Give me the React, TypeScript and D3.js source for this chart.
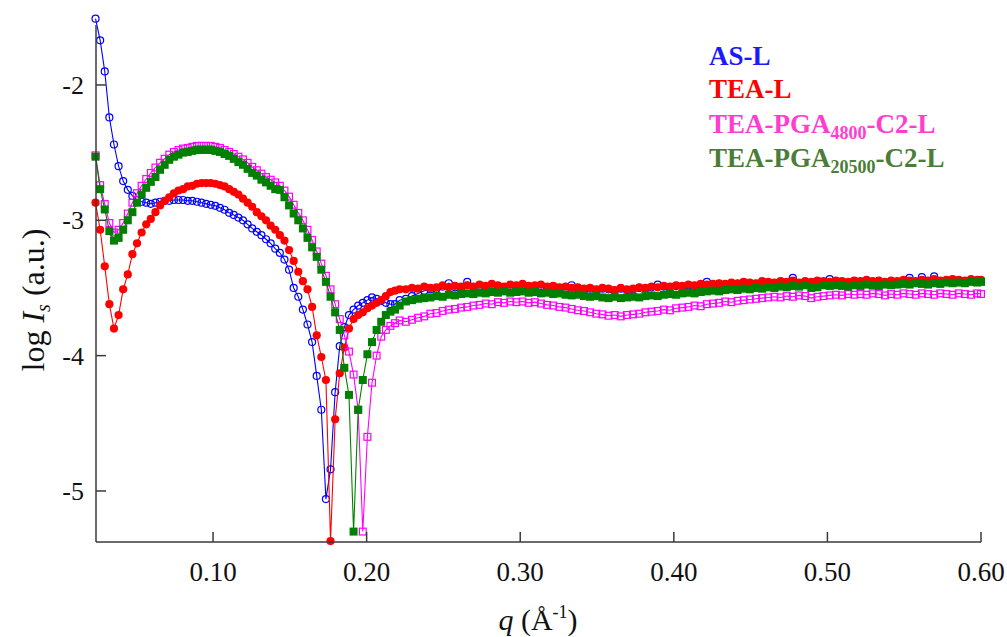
import React from "react";
import * as d3 from "d3";

// shared q grid (Å^-1)
const qGrid: number[] = [
  0.0235, 0.0265, 0.0295, 0.0325, 0.0355, 0.0385, 0.0415, 0.0445, 0.0475, 0.0505,
  0.0535, 0.0565, 0.0595, 0.0625, 0.0655, 0.0685, 0.0715, 0.0745, 0.0775, 0.0805,
  0.0835, 0.0865, 0.0895, 0.0925, 0.0955, 0.0985, 0.1015, 0.1045, 0.1075, 0.1105,
  0.1135, 0.1165, 0.1195, 0.1225, 0.1255, 0.1285, 0.1315, 0.1345, 0.1375, 0.1405,
  0.1435, 0.1465, 0.1495, 0.1525, 0.1555, 0.1585, 0.1615, 0.1645, 0.1675, 0.1705,
  0.1735, 0.1765, 0.1795, 0.1825, 0.1855, 0.1885, 0.1915, 0.1945, 0.1975, 0.2005,
  0.2035, 0.2065, 0.2095, 0.2125, 0.2155, 0.2185, 0.2215,
  0.2255, 0.2295, 0.2335, 0.2375, 0.2415, 0.2455, 0.2495, 0.2535, 0.2575, 0.2615,
  0.2655, 0.2695, 0.2735, 0.2775, 0.2815, 0.2855, 0.2895, 0.2935, 0.2975, 0.3015,
  0.3055, 0.3095, 0.3135, 0.3175, 0.3215, 0.3255, 0.3295, 0.3335, 0.3375, 0.3415,
  0.3455, 0.3495, 0.3535, 0.3575, 0.3615, 0.3655, 0.3695, 0.3735, 0.3775, 0.3815,
  0.3855, 0.3895, 0.3935, 0.3975, 0.4015, 0.4055, 0.4095, 0.4135, 0.4175, 0.4215,
  0.4255, 0.4295, 0.4335, 0.4375, 0.4415, 0.4455, 0.4495, 0.4535, 0.4575, 0.4615,
  0.4655, 0.4695, 0.4735, 0.4775, 0.4815, 0.4855, 0.4895, 0.4935, 0.4975, 0.5015,
  0.5055, 0.5095, 0.5135, 0.5175, 0.5215, 0.5255, 0.5295, 0.5335, 0.5375, 0.5415,
  0.5455, 0.5495, 0.5535, 0.5575, 0.5615, 0.5655, 0.5695, 0.5735, 0.5775, 0.5815,
  0.5855, 0.5895, 0.5935, 0.5975, 0.6,
];

// log Is, AS-L
const asL: number[] = [
  -1.51, -1.67, -1.90, -2.24, -2.44, -2.60, -2.71, -2.775, -2.82, -2.85,
  -2.863, -2.87, -2.878, -2.87, -2.863, -2.856, -2.856, -2.85, -2.85, -2.85,
  -2.856, -2.856, -2.863, -2.87, -2.878, -2.886, -2.893, -2.908, -2.922, -2.945,
  -2.96, -2.98, -3.00, -3.03, -3.06, -3.085, -3.11, -3.14, -3.17, -3.21,
  -3.24, -3.29, -3.365, -3.50, -3.565, -3.66, -3.77, -3.90, -4.15, -4.40,
  -5.06, -4.84, -4.27, -3.93, -3.79, -3.70, -3.66, -3.63, -3.61, -3.59,
  -3.57, -3.58, -3.595, -3.61, -3.62, -3.62, -3.59,
  -3.58, -3.56, -3.54, -3.52, -3.51, -3.505, -3.49, -3.465, -3.495, -3.50,
  -3.455, -3.495, -3.485, -3.49, -3.48, -3.49, -3.495, -3.485, -3.49, -3.48,
  -3.49, -3.49, -3.485, -3.495, -3.49, -3.50, -3.50, -3.48, -3.50, -3.51,
  -3.505, -3.515, -3.505, -3.51, -3.52, -3.505, -3.515, -3.51, -3.50, -3.505,
  -3.495, -3.475, -3.49, -3.495, -3.485, -3.49, -3.48, -3.485, -3.475, -3.455,
  -3.475, -3.47, -3.475, -3.465, -3.47, -3.46, -3.465, -3.47, -3.455, -3.46,
  -3.465, -3.455, -3.46, -3.425, -3.465, -3.455, -3.46, -3.45, -3.455, -3.435,
  -3.45, -3.455, -3.46, -3.45, -3.455, -3.445, -3.455, -3.45, -3.46, -3.45,
  -3.455, -3.445, -3.425, -3.455, -3.42, -3.45, -3.415, -3.45, -3.445, -3.44,
  -3.445, -3.45, -3.44, -3.445, -3.445,
];

// log Is, TEA-L
const teaL: number[] = [
  -2.87, -3.07, -3.34, -3.62, -3.80, -3.70, -3.51, -3.40, -3.25, -3.17,
  -3.09, -3.03, -2.99, -2.94, -2.89, -2.856, -2.83, -2.80, -2.78, -2.77,
  -2.75, -2.745, -2.73, -2.725, -2.725, -2.725, -2.73, -2.74, -2.75, -2.77,
  -2.79, -2.81, -2.84, -2.87, -2.90, -2.94, -2.97, -3.00, -3.04, -3.07,
  -3.11, -3.15, -3.22, -3.30, -3.38, -3.45, -3.51, -3.64, -3.85, -4.01,
  -4.18, -5.37, -4.47, -4.13, -3.94, -3.80, -3.73, -3.70, -3.68, -3.65,
  -3.63, -3.61, -3.59, -3.56, -3.53, -3.52, -3.51,
  -3.51, -3.50, -3.505, -3.49, -3.50, -3.495, -3.48, -3.495, -3.485, -3.49,
  -3.48, -3.49, -3.475, -3.485, -3.47, -3.48, -3.49, -3.475, -3.48, -3.47,
  -3.485, -3.48, -3.475, -3.49, -3.485, -3.495, -3.49, -3.50, -3.495, -3.505,
  -3.50, -3.51, -3.50, -3.505, -3.515, -3.50, -3.51, -3.505, -3.495, -3.50,
  -3.49, -3.495, -3.485, -3.49, -3.48, -3.485, -3.475, -3.48, -3.47, -3.475,
  -3.47, -3.465, -3.47, -3.46, -3.465, -3.455, -3.46, -3.465, -3.45, -3.455,
  -3.46, -3.45, -3.455, -3.445, -3.46, -3.45, -3.455, -3.445, -3.45, -3.455,
  -3.445, -3.45, -3.455, -3.445, -3.45, -3.44, -3.45, -3.445, -3.455, -3.445,
  -3.45, -3.44, -3.445, -3.45, -3.44, -3.445, -3.435, -3.445, -3.44, -3.435,
  -3.44, -3.445, -3.435, -3.44, -3.44,
];

// log Is, TEA-PGA4800-C2-L
const pga4800: number[] = [
  -2.52, -2.74, -2.88, -3.02, -3.09, -3.07, -3.02, -2.95, -2.87, -2.80,
  -2.745, -2.695, -2.65, -2.61, -2.575, -2.545, -2.515, -2.495, -2.48, -2.47,
  -2.465, -2.457, -2.45, -2.45, -2.45, -2.45, -2.457, -2.465, -2.48, -2.495,
  -2.51, -2.53, -2.55, -2.575, -2.605, -2.63, -2.655, -2.68, -2.70, -2.72,
  -2.745, -2.78, -2.825, -2.885, -2.945, -3.00, -3.07, -3.145, -3.23, -3.32,
  -3.41, -3.51, -3.62, -3.73, -3.85, -3.97, -4.14, -4.40, -5.30, -4.60,
  -4.20, -4.00, -3.86, -3.81, -3.78, -3.76, -3.74,
  -3.75, -3.735, -3.72, -3.71, -3.69, -3.685, -3.67, -3.66, -3.655, -3.645,
  -3.64, -3.63, -3.625, -3.615, -3.62, -3.605, -3.61, -3.60, -3.605, -3.60,
  -3.61, -3.605, -3.615, -3.625, -3.63, -3.64, -3.645, -3.655, -3.665, -3.67,
  -3.68, -3.69, -3.695, -3.705, -3.70, -3.71, -3.70, -3.695, -3.69, -3.68,
  -3.675, -3.67, -3.66, -3.665, -3.65, -3.645, -3.64, -3.63, -3.635, -3.62,
  -3.615, -3.61, -3.60, -3.605, -3.595, -3.59, -3.585, -3.58, -3.575, -3.57,
  -3.565, -3.57, -3.56, -3.565, -3.555, -3.56, -3.575, -3.565, -3.56, -3.555,
  -3.55, -3.555, -3.545, -3.55, -3.545, -3.55, -3.54, -3.545, -3.555, -3.545,
  -3.55, -3.54, -3.545, -3.55, -3.54, -3.545, -3.55, -3.54, -3.545, -3.55,
  -3.54, -3.545, -3.55, -3.54, -3.545,
];

// log Is, TEA-PGA20500-C2-L
const pga20500: number[] = [
  -2.53, -2.77, -2.92, -3.08, -3.15, -3.13, -3.07, -3.00, -2.94, -2.87,
  -2.81, -2.76, -2.716, -2.68, -2.627, -2.59, -2.553, -2.53, -2.515, -2.50,
  -2.495, -2.487, -2.48, -2.48, -2.48, -2.48, -2.487, -2.495, -2.51, -2.524,
  -2.546, -2.57, -2.59, -2.62, -2.65, -2.67, -2.70, -2.72, -2.745, -2.77,
  -2.775, -2.83, -2.89, -2.95, -3.00, -3.06, -3.13, -3.20, -3.27, -3.365,
  -3.455, -3.565, -3.68, -3.81, -4.09, -4.29, -5.30, -4.40, -4.18, -3.99,
  -3.90, -3.81, -3.75, -3.70, -3.675, -3.66, -3.63,
  -3.60, -3.59, -3.58, -3.575, -3.57, -3.56, -3.565, -3.55, -3.555, -3.545,
  -3.54, -3.545, -3.535, -3.54, -3.53, -3.535, -3.525, -3.535, -3.53, -3.525,
  -3.535, -3.53, -3.54, -3.535, -3.545, -3.54, -3.55, -3.555, -3.55, -3.56,
  -3.565, -3.56, -3.57, -3.575, -3.565, -3.575, -3.57, -3.565, -3.57, -3.56,
  -3.555, -3.56, -3.55, -3.545, -3.55, -3.54, -3.535, -3.54, -3.53, -3.525,
  -3.52, -3.525, -3.515, -3.51, -3.515, -3.505, -3.51, -3.50, -3.505, -3.495,
  -3.50, -3.49, -3.495, -3.485, -3.49, -3.48, -3.50, -3.495, -3.48, -3.485,
  -3.48, -3.485, -3.49, -3.48, -3.485, -3.475, -3.48, -3.485, -3.475, -3.48,
  -3.475, -3.47, -3.475, -3.465, -3.47, -3.475, -3.465, -3.47, -3.46, -3.465,
  -3.46, -3.465, -3.455, -3.46, -3.455,
];

const xTicks: number[] = [0.1, 0.2, 0.3, 0.4, 0.5, 0.6];
const xTickLabels: string[] = ["0.10", "0.20", "0.30", "0.40", "0.50", "0.60"];
const yTicks: number[] = [-2, -3, -4, -5];

const FONT = "'Liberation Serif', 'Times New Roman', serif";

export default function App() {
  const x = d3.scaleLinear().domain([0.0238, 0.6]).range([96, 981]);
  const y = d3.scaleLinear().domain([-5.377, -1.557]).range([542, 25]);
  const line = d3
    .line<[number, number]>()
    .x((d) => x(d[0]))
    .y((d) => y(d[1]));
  const pts = (vals: number[]) => qGrid.map((q, i) => [q, vals[i]] as [number, number]);

  const series = [
    { key: "as", vals: asL, color: "#0000ff", shape: "circleOpen" },
    { key: "tea", vals: teaL, color: "#ff0000", shape: "circleFilled" },
    { key: "p48", vals: pga4800, color: "#ff00ff", shape: "squareOpen" },
    { key: "p205", vals: pga20500, color: "#008000", shape: "squareFilled" },
  ];

  const axisColor = "#3a3a3a";

  return (
    <svg width={1007} height={637} style={{ display: "block", position: "absolute", left: 0, top: 0, background: "#fff" }}>
      {series.map((s) => {
        const data = pts(s.vals);
        return (
          <g key={s.key}>
            <path d={line(data) || ""} fill="none" stroke={s.color} strokeWidth={1.1} />
            {data.map((d, i) => {
              const cx = x(d[0]);
              const cy = y(d[1]);
              if (s.shape === "circleOpen")
                return <circle key={i} cx={cx} cy={cy} r={3.5} fill="none" stroke={s.color} strokeWidth={1.2} />;
              if (s.shape === "circleFilled")
                return <circle key={i} cx={cx} cy={cy} r={4.1} fill={s.color} />;
              if (s.shape === "squareOpen")
                return <rect key={i} x={cx - 3.4} y={cy - 3.4} width={6.8} height={6.8} fill="none" stroke={s.color} strokeWidth={1.2} />;
              return <rect key={i} x={cx - 4} y={cy - 4} width={8} height={8} fill={s.color} />;
            })}
          </g>
        );
      })}

      {/* axes */}
      <line x1={x.range()[0]} x2={x.range()[0]} y1={y.range()[1]} y2={y.range()[0]} stroke={axisColor} strokeWidth={1.5} />
      <line x1={x.range()[0]} x2={x.range()[1]} y1={y.range()[0]} y2={y.range()[0]} stroke={axisColor} strokeWidth={1.5} />
      {yTicks.map((t) => (
        <g key={"y" + t}>
          <line x1={x.range()[0]} x2={x.range()[0] + 10} y1={y(t)} y2={y(t)} stroke={axisColor} strokeWidth={1.5} />
          <text x={84} y={y(t)} dy="0.35em" textAnchor="end" fontFamily={FONT} fontSize={26} fill="#111">
            {t}
          </text>
        </g>
      ))}
      {xTicks.map((t, i) => (
        <g key={"x" + t}>
          <line x1={x(t)} x2={x(t)} y1={y.range()[0]} y2={y.range()[0] - 10} stroke={axisColor} strokeWidth={1.5} />
          <text x={x(t)} y={581} textAnchor="middle" fontFamily={FONT} fontSize={27} fill="#111">
            {xTickLabels[i]}
          </text>
        </g>
      ))}

      {/* axis titles */}
      <text transform="translate(44,300) rotate(-90)" textAnchor="middle" fontFamily={FONT} fontSize={32} fill="#111">
        log <tspan fontStyle="italic">I</tspan>
        <tspan fontSize={20} fontStyle="italic" dy={6}>s</tspan>
        <tspan dy={-6}> (a.u.)</tspan>
      </text>
      <text x={538} y={630} textAnchor="middle" fontFamily={FONT} fontSize={30} fill="#111">
        <tspan fontStyle="italic">q</tspan> (Å<tspan fontSize={18} dy={-12}>-1</tspan>
        <tspan dy={12}>)</tspan>
      </text>

      {/* legend */}
      <g fontFamily={FONT} fontWeight="bold" fontSize={27}>
        <text x={709} y={65} fill="#1a1aff">AS-L</text>
        <text x={709} y={98} fill="#ff0000">TEA-L</text>
        <text x={709} y={133} fill="#ff3dcf">
          TEA-PGA<tspan fontSize={18} dy={6}>4800</tspan>
          <tspan dy={-6}>-C2-L</tspan>
        </text>
        <text x={709} y={167} fill="#4b7d38">
          TEA-PGA<tspan fontSize={18} dy={6}>20500</tspan>
          <tspan dy={-6}>-C2-L</tspan>
        </text>
      </g>
    </svg>
  );
}
